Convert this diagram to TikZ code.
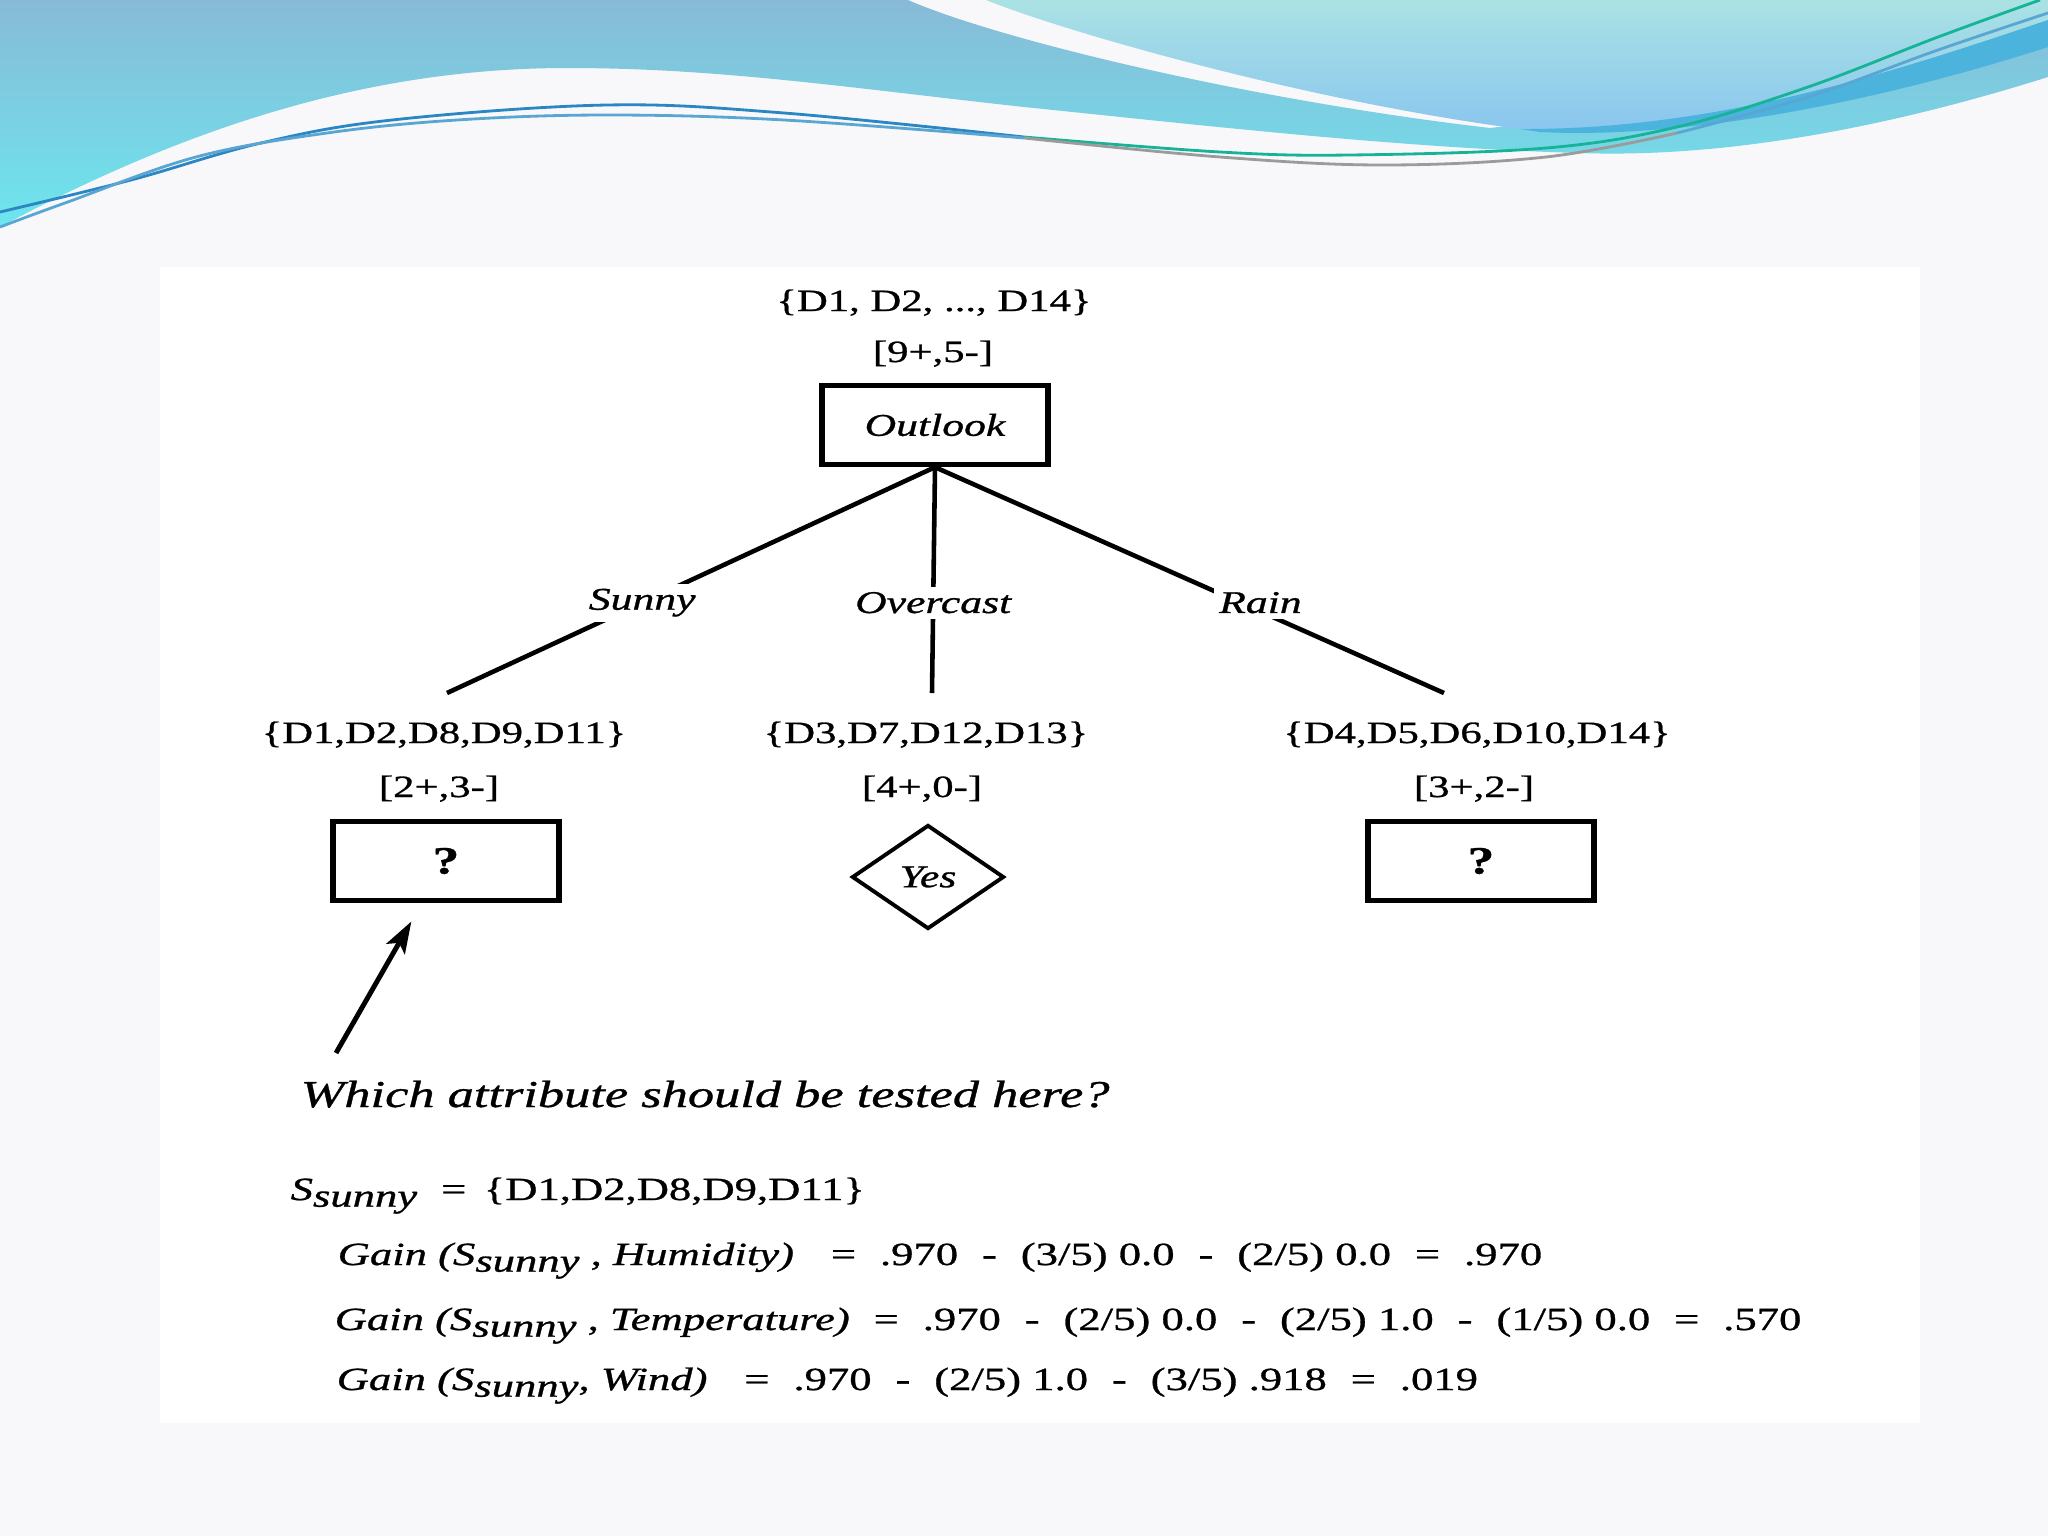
\documentclass[tikz,border=0pt]{standalone}
\usepackage{fontspec}
\setmainfont{Liberation Serif}[FakeStretch=1.38, FakeBold=0.9]
\usepackage{tikz}
\usetikzlibrary{positioning}
\usetikzlibrary{shapes.geometric}
\usetikzlibrary{arrows.meta}

\definecolor{slidebg}{HTML}{F8F8FA}
\definecolor{wavetop}{HTML}{88BAD7}
\definecolor{wavebottom}{HTML}{6DE6EE}
\definecolor{paletop}{HTML}{AAE2E4}
\definecolor{palebottom}{HTML}{8AC6EE}
\definecolor{bandblue}{HTML}{4CB3DD}
\definecolor{lineblue}{HTML}{2B86C4}
\definecolor{linegreen}{HTML}{17B396}
\definecolor{linelight}{HTML}{5AA6D2}
\definecolor{linegrey}{HTML}{9B9B9B}

\newcommand{\Ssunny}{\textit{S}\raisebox{-0.45ex}{\textit{sunny}}}
\newcommand{\eqgap}{\hspace{6.8pt}}

\begin{document}
\begin{tikzpicture}[x=0.01cm, y=-0.01cm,
    settext/.style={font=\fontsize{8.8}{10}\selectfont, inner sep=0pt, anchor=base},
    edgetext/.style={font=\fontsize{9}{11}\selectfont\itshape, fill=white, inner sep=1.5pt},
    testbox/.style={draw, line width=1.5pt, minimum width=2.26cm, minimum height=0.79cm, inner sep=0pt},
    leafbox/.style={diamond, draw, line width=1.1pt, minimum width=1.52cm, minimum height=1.04cm, inner sep=0pt},
    branch/.style={line width=1.3pt},
    gainline/.style={font=\fontsize{9.2}{11}\selectfont, inner sep=0pt, anchor=base west},
    swirl/.style={line width=0.8pt}]

    \useasboundingbox (0,0) rectangle (2048,1536);
    \fill [slidebg] (0,0) rectangle (2048,1536);
    \fill [white] (160,267) rectangle (1920,1423);

    \shade [top color=wavetop, bottom color=wavebottom]
        (0,0) -- (908,0) .. controls (1000,40) and (1250,100) .. (1490,128)
        .. controls (1650,110) and (1900,30) .. (2048,0) -- (2048,77)
        .. controls (1880,130) and (1720,158) .. (1579,153)
        .. controls (1400,148) and (1200,125) .. (1024,107)
        .. controls (850,88) and (720,68) .. (568,68)
        .. controls (380,68) and (200,120) .. (0,227) -- cycle;
    \shade [top color=paletop, bottom color=palebottom]
        (986,0) -- (2048,0) -- (2048,20) .. controls (1900,70) and (1720,130) .. (1520,129)
        .. controls (1300,100) and (1060,30) .. (986,0) -- cycle;
    \fill [bandblue]
        (1520,129) .. controls (1720,130) and (1900,70) .. (2048,20) -- (2048,47)
        .. controls (1900,95) and (1700,140) .. (1540,132) -- cycle;

    \draw [swirl, lineblue] plot [smooth, tension=0.6] coordinates {(0,212) (131,180) (261,143) (392,120) (607,105) (784,113) (1024,137)};
    \draw [swirl, linegreen] plot [smooth, tension=0.6] coordinates {(1024,137) (1220,152) (1350,155) (1546,148) (1677,127) (1808,87) (1938,37) (2040,0)};
    \draw [swirl, linelight] plot [smooth, tension=0.6] coordinates {(0,227) (65,203) (196,157) (327,133) (457,120) (607,115) (784,120) (1024,138)};
    \draw [swirl, linegrey] plot [smooth, tension=0.6] coordinates {(1024,138) (1220,157) (1383,165) (1546,157) (1677,133)};
    \draw [swirl, linelight] plot [smooth, tension=0.6] coordinates {(1677,133) (1808,97) (1938,50) (2048,13)};

    \node [settext] (setall) at (934,311) {\{D1, D2, ..., D14\}};
    \node [settext] (countall) at (933,362) {[9+,5-]};
    \node [testbox] (outlook) at (935,425) {\fontsize{9}{11}\selectfont\itshape Outlook};

    \coordinate (sunnyend) at (447,693);
    \coordinate (overend) at (932,693);
    \coordinate (rainend) at (1444,693);

    \draw [branch] (outlook.south) -- node [edgetext, pos=0.6] {Sunny} (sunnyend);
    \draw [branch] (outlook.south) -- node [edgetext, pos=0.6] {Overcast} (overend);
    \draw [branch] (outlook.south) -- node [edgetext, pos=0.6, xshift=0.2cm] {Rain} (rainend);

    \node [settext] (sunnyset) at (444,743) {\{D1,D2,D8,D9,D11\}};
    \node [settext] (sunnycount) at (439,797) {[2+,3-]};
    \node [testbox] (sunnyq) at (446,861) {\fontsize{11}{13}\selectfont\bfseries ?};

    \node [settext] (overset) at (926,743) {\{D3,D7,D12,D13\}};
    \node [settext] (overcount) at (922,797) {[4+,0-]};
    \node [leafbox] (yes) at (928,877) {\fontsize{9}{11}\selectfont\itshape Yes};

    \node [settext] (rainset) at (1477,743) {\{D4,D5,D6,D10,D14\}};
    \node [settext] (raincount) at (1474,797) {[3+,2-]};
    \node [testbox] (rainq) at (1481,861) {\fontsize{11}{13}\selectfont\bfseries ?};

    \coordinate (asktail) at (336,1053);
    \draw [-{Stealth[length=9pt, width=6pt, inset=2pt]}, line width=1.4pt, shorten >=6pt] (asktail) -- (sunnyq);
    \node [font=\fontsize{10.8}{13}\selectfont\itshape, inner sep=0pt, anchor=base west] (question) at (300,1107) {Which attribute should be tested here?};

    \node [gainline] (ssunny) at (290,1200) {\Ssunny\eqgap=\hspace{5pt}\{D1,D2,D8,D9,D11\}};
    \node [gainline] (gainhum) at (337,1265) {\textit{Gain (\Ssunny\ , Humidity)}\hspace{10.5pt}=\eqgap.970\eqgap-\eqgap(3/5) 0.0\eqgap-\eqgap(2/5) 0.0\eqgap=\eqgap.970};
    \node [gainline] (gaintemp) at (334,1330) {\textit{Gain (\Ssunny\ , Temperature)}\eqgap=\eqgap.970\eqgap-\eqgap(2/5) 0.0\eqgap-\eqgap(2/5) 1.0\eqgap-\eqgap(1/5) 0.0\eqgap=\eqgap.570};
    \node [gainline] (gainwind) at (336,1390) {\textit{Gain (\Ssunny, Wind)}\hspace{10.5pt}=\eqgap.970\eqgap-\eqgap(2/5) 1.0\eqgap-\eqgap(3/5) .918\eqgap=\eqgap.019};

\end{tikzpicture}
\end{document}
